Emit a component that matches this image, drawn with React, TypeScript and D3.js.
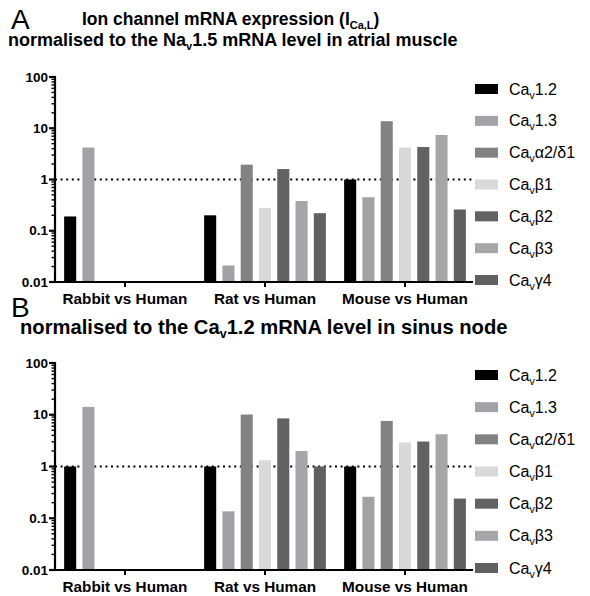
import React from 'react';
import * as d3 from 'd3';

// categories and series
const groups = ['Rabbit vs Human', 'Rat vs Human', 'Mouse vs Human'];
const seriesKeys = ['1.2', '1.3', 'a2d1', 'b1', 'b2', 'b3', 'g4'];
const seriesSuffix = ['1.2', '1.3', 'α2/δ1', 'β1', 'β2', 'β3', 'γ4'];
const seriesColors = ['#000000', '#a2a2a6', '#828282', '#d9d9d9', '#626262', '#a6a6a9', '#606060'];

// panel A: normalised to Nav1.5 in atrial muscle (null = not measured)
const atrialRabbit = [0.19, 4.2, null, null, null, null, null];
const atrialRat = [0.2, 0.021, 1.95, 0.28, 1.6, 0.38, 0.22];
const atrialMouse = [1.0, 0.45, 13.7, 4.2, 4.3, 7.4, 0.26];

// panel B: normalised to Cav1.2 in sinus node
const sinusRabbit = [1.0, 14.2, null, null, null, null, null];
const sinusRat = [1.0, 0.136, 10.1, 1.32, 8.5, 2.0, 1.0];
const sinusMouse = [1.0, 0.26, 7.6, 2.9, 3.04, 4.2, 0.24];

const yTicks = [0.01, 0.1, 1, 10, 100];
const yTickLabels = ['0.01', '0.1', '1', '10', '100'];

const FONT = "'Liberation Sans', Arial, Helvetica, sans-serif";

const Panel = ({ rows, top, bottom }) => {
  const x0 = 55;
  const x1 = 475;
  const y = d3.scaleLog().domain([0.01, 100]).range([bottom, top]);
  const xg = d3.scaleBand().domain(groups).range([x0, x1]).padding(0);
  const xs = d3.scaleBand().domain(seriesKeys).range([0, xg.bandwidth()])
    .paddingInner(0.34).paddingOuter(0.5);
  const legendY = d3.scalePoint().domain(seriesKeys).range([top + 12, bottom - 2]);

  // minor ticks 2..9 in each decade
  const minor = [];
  for (let e = -2; e < 2; e++) {
    for (let m = 2; m <= 9; m++) minor.push(m * Math.pow(10, e));
  }

  return (
    <g>
      {/* reference line at 1 */}
      <line x1={x0} x2={x1 - 2} y1={y(1)} y2={y(1)} stroke="#000"
        strokeWidth={2.2} strokeDasharray="2,3.6" />
      {groups.map((g, gi) => (
        <g key={g} transform={`translate(${xg(g)},0)`}>
          {rows[gi].map((v, si) => v == null ? null : (
            <rect key={si} x={xs(seriesKeys[si])} width={xs.bandwidth()}
              y={y(v)} height={bottom - y(v)} fill={seriesColors[si]} />
          ))}
        </g>
      ))}
      {/* y axis */}
      <line x1={x0} x2={x0} y1={top - 1} y2={bottom + 1} stroke="#000" strokeWidth={2.2} />
      {minor.map((t, i) => (
        <line key={i} x1={x0 - 3.5} x2={x0} y1={y(t)} y2={y(t)} stroke="#000" strokeWidth={1.4} />
      ))}
      {yTicks.map((t, i) => (
        <g key={t}>
          <line x1={x0 - 6} x2={x0} y1={y(t)} y2={y(t)} stroke="#000" strokeWidth={2.2} />
          <text x={x0 - 7} y={y(t)} dy="0.35em" textAnchor="end" fontSize={13.5}
            fontWeight="bold" fontFamily={FONT}>{yTickLabels[i]}</text>
        </g>
      ))}
      {/* x axis */}
      <line x1={x0 - 1} x2={x1 - 2} y1={bottom} y2={bottom} stroke="#000" strokeWidth={2.2} />
      {groups.map(g => (
        <g key={g}>
          <line x1={xg(g) + xg.bandwidth() / 2} x2={xg(g) + xg.bandwidth() / 2}
            y1={bottom} y2={bottom + 5} stroke="#000" strokeWidth={2} />
          <text x={xg(g) + xg.bandwidth() / 2} y={bottom + 22} textAnchor="middle"
            fontSize={15.3} fontWeight="bold" fontFamily={FONT}>{g}</text>
        </g>
      ))}
      {/* legend */}
      {seriesKeys.map((k, i) => (
        <g key={k} transform={`translate(475,${legendY(k)})`}>
          <rect x={0} y={-5} width={23} height={10} fill={seriesColors[i]} />
          <text x={34} y={0} dy="0.35em" fontSize={16} fontFamily={FONT}>
            Ca<tspan fontSize={10.5} dy={4}>v</tspan>
            <tspan dy={-4}>{seriesSuffix[i]}</tspan>
          </text>
        </g>
      ))}
    </g>
  );
};

export default function App() {
  return (
    <svg width={590} height={596} style={{ position: 'absolute', left: 0, top: 0, background: '#fff' }}>
      <rect width={590} height={596} fill="#fff" />
      <text x={11} y={29} fontSize={28} fontFamily={FONT}>A</text>
      <text x={82} y={25} fontSize={17.5} fontWeight="bold" fontFamily={FONT}>
        Ion channel mRNA expression (I<tspan fontSize={11} dy={4}>Ca,L</tspan>
        <tspan dy={-4}>)</tspan>
      </text>
      <text x={8} y={46} fontSize={18} fontWeight="bold" fontFamily={FONT}>
        normalised to the Na<tspan fontSize={11} dy={4}>v</tspan>
        <tspan dy={-4}>1.5 mRNA level in atrial muscle</tspan>
      </text>
      <Panel rows={[atrialRabbit, atrialRat, atrialMouse]} top={77} bottom={282} />

      <text x={11} y={317} fontSize={28} fontFamily={FONT}>B</text>
      <text x={20} y={334} fontSize={20.2} fontWeight="bold" fontFamily={FONT}>
        normalised to the Ca<tspan fontSize={12.5} dy={4}>v</tspan>
        <tspan dy={-4}>1.2 mRNA level in sinus node</tspan>
      </text>
      <Panel rows={[sinusRabbit, sinusRat, sinusMouse]} top={363} bottom={570} />
    </svg>
  );
}
